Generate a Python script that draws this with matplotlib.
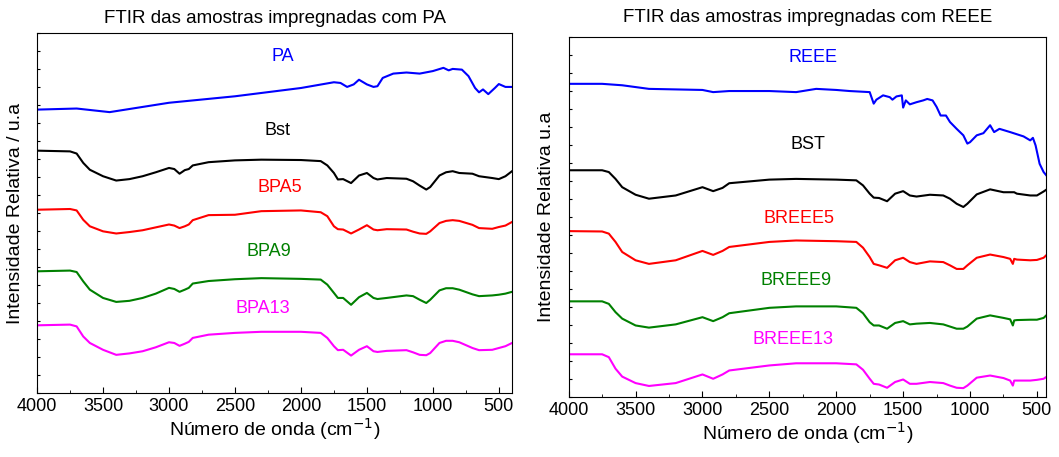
import matplotlib
matplotlib.use('Agg')
import matplotlib.pyplot as plt
from matplotlib.ticker import MultipleLocator, NullFormatter

plt.rcParams['font.family'] = ['Liberation Sans', 'DejaVu Sans']

# --- panel A: samples impregnated with PA (wavenumber cm-1, intensity a.u.) ---
wn_pa = [4000, 3700, 3500, 3450, 3000, 2500, 2000, 1750, 1700, 1650, 1600, 1560, 1500,
         1450, 1420, 1380, 1300, 1200, 1100, 1000, 920, 880, 850, 780, 730, 680, 650,
         620, 580, 530, 500, 450, 400]
pa = [78.7, 79.0, 78.2, 78.0, 80.6, 82.4, 84.7, 86.3, 86.1, 85.0, 85.7, 87.0, 85.7,
      85.0, 85.2, 87.5, 88.7, 89.0, 88.7, 89.4, 90.3, 89.6, 90.0, 89.8, 88.0, 84.7, 83.5,
      84.3, 83.0, 84.7, 85.8, 85.0, 85.0]

wn_b = [4000, 3750, 3700, 3650, 3600, 3500, 3400, 3300, 3200, 3100, 3000, 2960, 2920,
        2880, 2850, 2820, 2700, 2500, 2300, 2000, 1850, 1800, 1750, 1720, 1680, 1620,
        1560, 1500, 1450, 1420, 1350, 1200, 1150, 1100, 1050, 1020, 950, 900, 850, 800,
        700, 650, 550, 500, 450, 400]
bst = [67.3, 67.1, 66.5, 63.9, 62.0, 60.2, 59.0, 59.4, 60.2, 61.3, 62.5, 62.2, 60.9,
       61.9, 62.2, 63.2, 64.1, 64.6, 64.8, 64.7, 64.4, 63.2, 61.1, 59.3, 59.4, 58.3,
       60.4, 61.1, 59.7, 59.3, 59.7, 59.5, 58.8, 57.6, 56.5, 57.2, 60.4, 61.3, 61.6, 61.1,
       60.9, 60.2, 59.7, 59.4, 60.2, 61.6]
bpa5 = [50.9, 51.1, 50.7, 48.1, 46.3, 44.9, 44.3, 44.7, 45.2, 46.0, 46.8, 46.5, 45.8,
        46.3, 46.8, 48.0, 49.4, 49.5, 50.5, 50.7, 50.2, 49.1, 46.3, 45.5, 45.4, 44.3,
        45.4, 46.6, 45.4, 45.2, 45.5, 45.4, 44.8, 44.3, 44.2, 44.9, 47.2, 47.8, 48.0, 47.8,
        46.7, 45.8, 45.6, 46.1, 46.5, 47.5]
bpa9 = [33.8, 34.0, 33.6, 31.0, 28.7, 26.4, 25.3, 25.6, 26.4, 27.6, 29.2, 28.9, 28.1,
        28.7, 29.2, 30.4, 31.1, 31.6, 31.9, 31.7, 31.5, 30.1, 27.8, 26.4, 26.4, 24.5,
        26.6, 27.8, 26.4, 26.1, 26.4, 27.1, 26.9, 25.9, 25.0, 25.9, 28.5, 29.1, 29.1, 28.7,
        27.4, 26.9, 27.1, 27.3, 27.6, 28.1]
bpa13 = [18.8, 19.0, 18.5, 15.7, 13.9, 12.0, 10.6, 11.0, 11.6, 12.7, 14.1, 13.9, 13.1,
         13.7, 14.2, 15.3, 16.2, 16.7, 17.0, 17.0, 16.7, 15.3, 13.0, 11.9, 12.0, 10.4,
         12.0, 13.0, 11.6, 11.4, 11.7, 11.9, 11.3, 10.6, 10.5, 11.1, 13.9, 14.5, 14.5, 14.1,
         12.5, 11.9, 12.0, 12.5, 13.0, 13.9]

labels_a = ['PA', 'Bst', 'BPA5', 'BPA9', 'BPA13']
label_pos_a = [(2136, 93.5), (2180, 73.0), (2160, 57.2), (2240, 39.2), (2290, 23.6)]

# --- panel B: samples impregnated with REEE ---
wn_r = [4000, 3750, 3600, 3400, 3000, 2920, 2800, 2500, 2300, 2150, 2000, 1900, 1750,
        1720, 1700, 1650, 1600, 1580, 1550, 1510, 1500, 1480, 1450, 1400, 1350, 1320,
        1280, 1250, 1220, 1180, 1150, 1100, 1050, 1020, 1000, 950, 900, 850, 820, 780,
        700, 600, 550, 530, 510, 480, 450, 430]
reee = [87.0, 87.0, 86.6, 85.6, 85.3, 84.7, 85.0, 85.0, 84.7, 85.6, 85.3, 85.0, 84.7,
        81.5, 82.6, 83.8, 83.3, 82.6, 83.5, 83.8, 80.4, 82.4, 81.3, 81.9, 82.4, 82.8,
        82.4, 80.6, 78.2, 78.2, 76.4, 74.5, 72.7, 70.4, 70.8, 72.7, 73.3, 75.5, 73.6, 74.5,
        73.6, 72.4, 71.3, 72.0, 69.9, 64.8, 62.5, 61.6]

wn_s = [4000, 3750, 3700, 3650, 3600, 3500, 3400, 3200, 3000, 2920, 2850, 2800, 2500,
        2300, 2000, 1850, 1800, 1750, 1720, 1680, 1620, 1560, 1500, 1450, 1400, 1300,
        1200, 1150, 1100, 1050, 1020, 950, 850, 750, 700, 680, 670, 650, 550, 500, 450, 430]
bst_r = [63.0, 63.0, 62.5, 60.6, 58.3, 56.2, 55.1, 56.0, 58.3, 57.2, 58.1, 59.4, 60.4,
         60.6, 60.4, 60.2, 58.8, 56.5, 55.4, 55.3, 54.4, 56.5, 57.2, 56.0, 55.7, 56.2,
         56.0, 55.1, 53.7, 52.8, 53.7, 56.3, 57.7, 56.9, 56.9, 56.9, 56.9, 56.5, 56.0, 56.0,
         57.1, 57.6]
breee5 = [46.1, 46.0, 45.4, 43.1, 40.3, 38.0, 37.0, 38.0, 40.6, 39.5, 40.6, 41.7, 43.1,
          43.5, 43.3, 43.1, 41.5, 38.9, 37.0, 36.6, 35.9, 38.0, 38.7, 37.5, 37.0, 37.7,
          37.5, 36.6, 35.6, 35.6, 36.6, 38.7, 39.6, 38.9, 38.4, 37.0, 38.4, 38.2, 38.0, 38.1,
          38.7, 39.4]
breee9 = [26.6, 26.6, 25.9, 23.6, 21.8, 19.9, 19.3, 20.2, 22.2, 21.1, 22.2, 23.3, 24.8,
          25.2, 25.2, 24.8, 23.3, 20.8, 19.9, 19.9, 19.0, 20.6, 21.1, 20.2, 20.4, 20.6,
          20.2, 19.6, 19.0, 19.0, 19.6, 21.8, 22.7, 22.0, 21.6, 19.9, 21.3, 21.4, 21.5, 21.5,
          22.0, 22.7]
breee13 = [11.9, 11.9, 11.1, 7.9, 5.7, 3.9, 3.1, 3.9, 6.3, 5.1, 6.3, 7.4, 8.8,
           9.4, 9.4, 9.1, 7.6, 5.1, 3.7, 3.5, 2.6, 4.2, 4.9, 3.7, 3.7, 4.2,
           3.9, 3.2, 2.6, 2.5, 3.2, 5.4, 6.0, 5.3, 4.6, 3.2, 4.6, 4.6, 4.6, 4.8,
           5.1, 5.6]

labels_b = ['REEE', 'BST', 'BREEE5', 'BREEE9', 'BREEE13']
label_pos_b = [(2173, 94.3), (2210, 70.2), (2278, 49.5), (2298, 32.4), (2323, 15.9)]

colors = ['#0000ff', '#000000', '#ff0000', '#008000', '#ff00ff']


def style_ax(ax, xmax, title, ylabel, tpad):
    ax.set_xlim(4000, xmax)
    ax.set_ylim(0, 100)
    ax.xaxis.set_major_locator(MultipleLocator(500))
    ax.xaxis.set_minor_locator(MultipleLocator(250))
    ax.yaxis.set_major_locator(MultipleLocator(5))
    ax.yaxis.set_major_formatter(NullFormatter())
    ax.tick_params(axis='x', which='major', direction='in', length=4, labelsize=13)
    ax.tick_params(axis='x', which='minor', direction='in', length=2)
    ax.tick_params(axis='y', direction='in', length=2.5, width=0.8)
    ax.set_title(title, fontsize=13.5, pad=tpad)
    ax.set_ylabel(ylabel, fontsize=14, labelpad=6)
    ax.set_xlabel('Número de onda (cm$^{-1}$)', fontsize=14, labelpad=1)


fig = plt.figure(figsize=(10.59, 4.57), dpi=100)
ax = fig.add_axes([0.035, 0.140, 0.4485, 0.788])
bx = fig.add_axes([0.537, 0.131, 0.451, 0.788])

series_a = [(wn_pa, pa), (wn_b, bst), (wn_b, bpa5), (wn_b, bpa9), (wn_b, bpa13)]
for (x, y), c, lab, (tx, ty) in zip(series_a, colors, labels_a, label_pos_a):
    ax.plot(x, y, color=c, lw=1.5)
    ax.text(tx, ty, lab, color=c, fontsize=13, ha='center', va='center')
style_ax(ax, 400, 'FTIR das amostras impregnadas com PA', 'Intensidade Relativa / u.a', 7)

series_b = [(wn_r, reee), (wn_s, bst_r), (wn_s, breee5), (wn_s, breee9), (wn_s, breee13)]
for (x, y), c, lab, (tx, ty) in zip(series_b, colors, labels_b, label_pos_b):
    bx.plot(x, y, color=c, lw=1.5)
    bx.text(tx, ty, lab, color=c, fontsize=13, ha='center', va='center')
style_ax(bx, 430, 'FTIR das amostras impregnadas com REEE', 'Intensidade Relativa u.a', 11)

fig.savefig('out.png', dpi=100)
